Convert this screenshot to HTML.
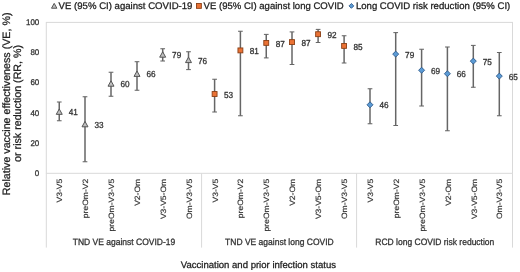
<!DOCTYPE html>
<html><head><meta charset="utf-8"><style>
html,body{margin:0;padding:0;background:#fff;}
body{width:520px;height:272px;overflow:hidden;}
svg{display:block;font-family:"Liberation Sans", sans-serif;filter:blur(0.35px);text-rendering:geometricPrecision;}
</style></head><body>
<svg width="520" height="272" viewBox="0 0 520 272">
<rect x="46.30" y="22.40" width="466.20" height="150.90" fill="none" stroke="#d9d9d9" stroke-width="1"/>
<line x1="46.30" y1="173.30" x2="46.30" y2="247.6" stroke="#d9d9d9" stroke-width="1"/>
<line x1="201.60" y1="173.30" x2="201.60" y2="247.6" stroke="#d9d9d9" stroke-width="1"/>
<line x1="356.60" y1="173.30" x2="356.60" y2="247.6" stroke="#d9d9d9" stroke-width="1"/>
<line x1="512.50" y1="173.30" x2="512.50" y2="247.6" stroke="#d9d9d9" stroke-width="1"/>
<text transform="translate(39.30,173.00) scale(1,1.03)" text-anchor="end" font-size="8.0" fill="#333333" stroke="#333333" stroke-width="0.28" stroke-linejoin="round" dy="0.355em">0</text>
<text transform="translate(39.30,142.82) scale(1,1.03)" text-anchor="end" font-size="8.0" fill="#333333" stroke="#333333" stroke-width="0.28" stroke-linejoin="round" dy="0.355em">20</text>
<text transform="translate(39.30,112.64) scale(1,1.03)" text-anchor="end" font-size="8.0" fill="#333333" stroke="#333333" stroke-width="0.28" stroke-linejoin="round" dy="0.355em">40</text>
<text transform="translate(39.30,82.46) scale(1,1.03)" text-anchor="end" font-size="8.0" fill="#333333" stroke="#333333" stroke-width="0.28" stroke-linejoin="round" dy="0.355em">60</text>
<text transform="translate(39.30,52.28) scale(1,1.03)" text-anchor="end" font-size="8.0" fill="#333333" stroke="#333333" stroke-width="0.28" stroke-linejoin="round" dy="0.355em">80</text>
<text transform="translate(39.30,22.10) scale(1,1.03)" text-anchor="end" font-size="8.0" fill="#333333" stroke="#333333" stroke-width="0.28" stroke-linejoin="round" dy="0.355em">100</text>
<text transform="translate(9.70,103.90) scale(1,1.0) rotate(-90)" text-anchor="middle" font-size="10.7" fill="#222222" stroke="#222222" stroke-width="0.28" stroke-linejoin="round">Relative vaccine effectiveness (VE, %)</text>
<text transform="translate(20.70,103.40) scale(1,1.0) rotate(-90)" text-anchor="middle" font-size="10.7" fill="#222222" stroke="#222222" stroke-width="0.28" stroke-linejoin="round">or risk reduction (RR, %)</text>
<text transform="translate(62.15,178.80) scale(1,1.11) rotate(-90)" text-anchor="end" font-size="7.7" fill="#333333" stroke="#333333" stroke-width="0.18" stroke-linejoin="round">V3-V5</text>
<text transform="translate(88.05,178.80) scale(1,1.11) rotate(-90)" text-anchor="end" font-size="7.7" fill="#333333" stroke="#333333" stroke-width="0.18" stroke-linejoin="round">preOm-V2</text>
<text transform="translate(113.95,178.80) scale(1,1.11) rotate(-90)" text-anchor="end" font-size="7.7" fill="#333333" stroke="#333333" stroke-width="0.18" stroke-linejoin="round">preOm-V3-V5</text>
<text transform="translate(139.85,178.80) scale(1,1.11) rotate(-90)" text-anchor="end" font-size="7.7" fill="#333333" stroke="#333333" stroke-width="0.18" stroke-linejoin="round">V2-Om</text>
<text transform="translate(165.75,178.80) scale(1,1.11) rotate(-90)" text-anchor="end" font-size="7.7" fill="#333333" stroke="#333333" stroke-width="0.18" stroke-linejoin="round">V3-V5-Om</text>
<text transform="translate(191.65,178.80) scale(1,1.11) rotate(-90)" text-anchor="end" font-size="7.7" fill="#333333" stroke="#333333" stroke-width="0.18" stroke-linejoin="round">Om-V3-V5</text>
<text transform="translate(217.55,178.80) scale(1,1.11) rotate(-90)" text-anchor="end" font-size="7.7" fill="#333333" stroke="#333333" stroke-width="0.18" stroke-linejoin="round">V3-V5</text>
<text transform="translate(243.45,178.80) scale(1,1.11) rotate(-90)" text-anchor="end" font-size="7.7" fill="#333333" stroke="#333333" stroke-width="0.18" stroke-linejoin="round">preOm-V2</text>
<text transform="translate(269.35,178.80) scale(1,1.11) rotate(-90)" text-anchor="end" font-size="7.7" fill="#333333" stroke="#333333" stroke-width="0.18" stroke-linejoin="round">preOm-V3-V5</text>
<text transform="translate(295.25,178.80) scale(1,1.11) rotate(-90)" text-anchor="end" font-size="7.7" fill="#333333" stroke="#333333" stroke-width="0.18" stroke-linejoin="round">V2-Om</text>
<text transform="translate(321.15,178.80) scale(1,1.11) rotate(-90)" text-anchor="end" font-size="7.7" fill="#333333" stroke="#333333" stroke-width="0.18" stroke-linejoin="round">V3-V5-Om</text>
<text transform="translate(347.05,178.80) scale(1,1.11) rotate(-90)" text-anchor="end" font-size="7.7" fill="#333333" stroke="#333333" stroke-width="0.18" stroke-linejoin="round">Om-V3-V5</text>
<text transform="translate(372.95,178.80) scale(1,1.11) rotate(-90)" text-anchor="end" font-size="7.7" fill="#333333" stroke="#333333" stroke-width="0.18" stroke-linejoin="round">V3-V5</text>
<text transform="translate(398.85,178.80) scale(1,1.11) rotate(-90)" text-anchor="end" font-size="7.7" fill="#333333" stroke="#333333" stroke-width="0.18" stroke-linejoin="round">preOm-V2</text>
<text transform="translate(424.75,178.80) scale(1,1.11) rotate(-90)" text-anchor="end" font-size="7.7" fill="#333333" stroke="#333333" stroke-width="0.18" stroke-linejoin="round">preOm-V3-V5</text>
<text transform="translate(450.65,178.80) scale(1,1.11) rotate(-90)" text-anchor="end" font-size="7.7" fill="#333333" stroke="#333333" stroke-width="0.18" stroke-linejoin="round">V2-Om</text>
<text transform="translate(476.55,178.80) scale(1,1.11) rotate(-90)" text-anchor="end" font-size="7.7" fill="#333333" stroke="#333333" stroke-width="0.18" stroke-linejoin="round">V3-V5-Om</text>
<text transform="translate(502.45,178.80) scale(1,1.11) rotate(-90)" text-anchor="end" font-size="7.7" fill="#333333" stroke="#333333" stroke-width="0.18" stroke-linejoin="round">Om-V3-V5</text>
<text transform="translate(124.00,244.70) scale(1,1.08)" text-anchor="middle" font-size="8.5" fill="#333333" stroke="#333333" stroke-width="0.28" stroke-linejoin="round">TND VE against COVID-19</text>
<text transform="translate(279.40,244.70) scale(1,1.08)" text-anchor="middle" font-size="8.5" fill="#333333" stroke="#333333" stroke-width="0.28" stroke-linejoin="round">TND VE against long COVID</text>
<text transform="translate(434.80,244.70) scale(1,1.08)" text-anchor="middle" font-size="8.5" fill="#333333" stroke="#333333" stroke-width="0.28" stroke-linejoin="round">RCD long COVID risk reduction</text>
<text transform="translate(258.40,267.60) scale(1,1.0)" text-anchor="middle" font-size="9.55" fill="#222222" stroke="#222222" stroke-width="0.28" stroke-linejoin="round">Vaccination and prior infection status</text>
<line x1="59.25" y1="102.00" x2="59.25" y2="120.75" stroke="#666666" stroke-width="1.5"/>
<line x1="56.90" y1="102.00" x2="61.60" y2="102.00" stroke="#666666" stroke-width="1.05"/>
<line x1="56.90" y1="120.75" x2="61.60" y2="120.75" stroke="#666666" stroke-width="1.05"/>
<path d="M59.25,108.95 L62.25,114.35 L56.25,114.35 Z" fill="#bfbfbf" stroke="#555" stroke-width="1"/>
<text transform="translate(68.65,112.25) scale(1,1.06)" text-anchor="start" font-size="8.2" fill="#333333" stroke="#333333" stroke-width="0.28" stroke-linejoin="round" dy="0.355em">41</text>
<line x1="85.00" y1="96.75" x2="85.00" y2="161.75" stroke="#666666" stroke-width="1.5"/>
<line x1="82.65" y1="96.75" x2="87.35" y2="96.75" stroke="#666666" stroke-width="1.05"/>
<line x1="82.65" y1="161.75" x2="87.35" y2="161.75" stroke="#666666" stroke-width="1.05"/>
<path d="M85.00,121.40 L88.00,126.80 L82.00,126.80 Z" fill="#bfbfbf" stroke="#555" stroke-width="1"/>
<text transform="translate(94.40,124.70) scale(1,1.06)" text-anchor="start" font-size="8.2" fill="#333333" stroke="#333333" stroke-width="0.28" stroke-linejoin="round" dy="0.355em">33</text>
<line x1="111.00" y1="72.25" x2="111.00" y2="96.25" stroke="#666666" stroke-width="1.5"/>
<line x1="108.65" y1="72.25" x2="113.35" y2="72.25" stroke="#666666" stroke-width="1.05"/>
<line x1="108.65" y1="96.25" x2="113.35" y2="96.25" stroke="#666666" stroke-width="1.05"/>
<path d="M111.00,80.80 L114.00,86.20 L108.00,86.20 Z" fill="#bfbfbf" stroke="#555" stroke-width="1"/>
<text transform="translate(120.40,84.10) scale(1,1.06)" text-anchor="start" font-size="8.2" fill="#333333" stroke="#333333" stroke-width="0.28" stroke-linejoin="round" dy="0.355em">60</text>
<line x1="137.00" y1="61.70" x2="137.00" y2="90.25" stroke="#666666" stroke-width="1.5"/>
<line x1="134.65" y1="61.70" x2="139.35" y2="61.70" stroke="#666666" stroke-width="1.05"/>
<line x1="134.65" y1="90.25" x2="139.35" y2="90.25" stroke="#666666" stroke-width="1.05"/>
<path d="M137.00,71.00 L140.00,76.40 L134.00,76.40 Z" fill="#bfbfbf" stroke="#555" stroke-width="1"/>
<text transform="translate(146.40,74.30) scale(1,1.06)" text-anchor="start" font-size="8.2" fill="#333333" stroke="#333333" stroke-width="0.28" stroke-linejoin="round" dy="0.355em">66</text>
<line x1="162.70" y1="48.75" x2="162.70" y2="61.00" stroke="#666666" stroke-width="1.5"/>
<line x1="160.35" y1="48.75" x2="165.05" y2="48.75" stroke="#666666" stroke-width="1.05"/>
<line x1="160.35" y1="61.00" x2="165.05" y2="61.00" stroke="#666666" stroke-width="1.05"/>
<path d="M162.70,51.80 L165.70,57.20 L159.70,57.20 Z" fill="#bfbfbf" stroke="#555" stroke-width="1"/>
<text transform="translate(172.10,55.10) scale(1,1.06)" text-anchor="start" font-size="8.2" fill="#333333" stroke="#333333" stroke-width="0.28" stroke-linejoin="round" dy="0.355em">79</text>
<line x1="188.50" y1="51.75" x2="188.50" y2="69.60" stroke="#666666" stroke-width="1.5"/>
<line x1="186.15" y1="51.75" x2="190.85" y2="51.75" stroke="#666666" stroke-width="1.05"/>
<line x1="186.15" y1="69.60" x2="190.85" y2="69.60" stroke="#666666" stroke-width="1.05"/>
<path d="M188.50,57.20 L191.50,62.60 L185.50,62.60 Z" fill="#bfbfbf" stroke="#555" stroke-width="1"/>
<text transform="translate(197.90,60.50) scale(1,1.06)" text-anchor="start" font-size="8.2" fill="#333333" stroke="#333333" stroke-width="0.28" stroke-linejoin="round" dy="0.355em">76</text>
<line x1="214.60" y1="79.25" x2="214.60" y2="112.00" stroke="#666666" stroke-width="1.5"/>
<line x1="212.25" y1="79.25" x2="216.95" y2="79.25" stroke="#666666" stroke-width="1.05"/>
<line x1="212.25" y1="112.00" x2="216.95" y2="112.00" stroke="#666666" stroke-width="1.05"/>
<rect x="212.15" y="91.55" width="4.90" height="4.90" fill="#ea7235" stroke="#8a3f14" stroke-width="0.9"/>
<text transform="translate(224.00,94.60) scale(1,1.06)" text-anchor="start" font-size="8.2" fill="#333333" stroke="#333333" stroke-width="0.28" stroke-linejoin="round" dy="0.355em">53</text>
<line x1="240.40" y1="31.25" x2="240.40" y2="115.75" stroke="#666666" stroke-width="1.5"/>
<line x1="238.05" y1="31.25" x2="242.75" y2="31.25" stroke="#666666" stroke-width="1.05"/>
<line x1="238.05" y1="115.75" x2="242.75" y2="115.75" stroke="#666666" stroke-width="1.05"/>
<rect x="237.95" y="47.95" width="4.90" height="4.90" fill="#ea7235" stroke="#8a3f14" stroke-width="0.9"/>
<text transform="translate(249.80,51.00) scale(1,1.06)" text-anchor="start" font-size="8.2" fill="#333333" stroke="#333333" stroke-width="0.28" stroke-linejoin="round" dy="0.355em">81</text>
<line x1="266.25" y1="34.40" x2="266.25" y2="57.90" stroke="#666666" stroke-width="1.5"/>
<line x1="263.90" y1="34.40" x2="268.60" y2="34.40" stroke="#666666" stroke-width="1.05"/>
<line x1="263.90" y1="57.90" x2="268.60" y2="57.90" stroke="#666666" stroke-width="1.05"/>
<rect x="263.80" y="40.45" width="4.90" height="4.90" fill="#ea7235" stroke="#8a3f14" stroke-width="0.9"/>
<text transform="translate(275.65,43.50) scale(1,1.06)" text-anchor="start" font-size="8.2" fill="#333333" stroke="#333333" stroke-width="0.28" stroke-linejoin="round" dy="0.355em">87</text>
<line x1="292.00" y1="31.90" x2="292.00" y2="64.50" stroke="#666666" stroke-width="1.5"/>
<line x1="289.65" y1="31.90" x2="294.35" y2="31.90" stroke="#666666" stroke-width="1.05"/>
<line x1="289.65" y1="64.50" x2="294.35" y2="64.50" stroke="#666666" stroke-width="1.05"/>
<rect x="289.55" y="39.65" width="4.90" height="4.90" fill="#ea7235" stroke="#8a3f14" stroke-width="0.9"/>
<text transform="translate(301.40,42.70) scale(1,1.06)" text-anchor="start" font-size="8.2" fill="#333333" stroke="#333333" stroke-width="0.28" stroke-linejoin="round" dy="0.355em">87</text>
<line x1="318.10" y1="29.40" x2="318.10" y2="42.50" stroke="#666666" stroke-width="1.5"/>
<line x1="315.75" y1="29.40" x2="320.45" y2="29.40" stroke="#666666" stroke-width="1.05"/>
<line x1="315.75" y1="42.50" x2="320.45" y2="42.50" stroke="#666666" stroke-width="1.05"/>
<rect x="315.65" y="31.75" width="4.90" height="4.90" fill="#ea7235" stroke="#8a3f14" stroke-width="0.9"/>
<text transform="translate(327.50,34.80) scale(1,1.06)" text-anchor="start" font-size="8.2" fill="#333333" stroke="#333333" stroke-width="0.28" stroke-linejoin="round" dy="0.355em">92</text>
<line x1="344.10" y1="35.75" x2="344.10" y2="63.00" stroke="#666666" stroke-width="1.5"/>
<line x1="341.75" y1="35.75" x2="346.45" y2="35.75" stroke="#666666" stroke-width="1.05"/>
<line x1="341.75" y1="63.00" x2="346.45" y2="63.00" stroke="#666666" stroke-width="1.05"/>
<rect x="341.65" y="43.45" width="4.90" height="4.90" fill="#ea7235" stroke="#8a3f14" stroke-width="0.9"/>
<text transform="translate(353.50,46.50) scale(1,1.06)" text-anchor="start" font-size="8.2" fill="#333333" stroke="#333333" stroke-width="0.28" stroke-linejoin="round" dy="0.355em">85</text>
<line x1="370.00" y1="88.75" x2="370.00" y2="123.75" stroke="#666666" stroke-width="1.5"/>
<line x1="367.65" y1="88.75" x2="372.35" y2="88.75" stroke="#666666" stroke-width="1.05"/>
<line x1="367.65" y1="123.75" x2="372.35" y2="123.75" stroke="#666666" stroke-width="1.05"/>
<path d="M370.00,101.80 L373.00,104.80 L370.00,107.80 L367.00,104.80 Z" fill="#5b9bd5" stroke="#2e5a8c" stroke-width="0.9"/>
<text transform="translate(379.40,105.40) scale(1,1.06)" text-anchor="start" font-size="8.2" fill="#333333" stroke="#333333" stroke-width="0.28" stroke-linejoin="round" dy="0.355em">46</text>
<line x1="395.70" y1="32.60" x2="395.70" y2="125.50" stroke="#666666" stroke-width="1.5"/>
<line x1="393.35" y1="32.60" x2="398.05" y2="32.60" stroke="#666666" stroke-width="1.05"/>
<line x1="393.35" y1="125.50" x2="398.05" y2="125.50" stroke="#666666" stroke-width="1.05"/>
<path d="M395.70,51.10 L398.70,54.10 L395.70,57.10 L392.70,54.10 Z" fill="#5b9bd5" stroke="#2e5a8c" stroke-width="0.9"/>
<text transform="translate(405.10,54.70) scale(1,1.06)" text-anchor="start" font-size="8.2" fill="#333333" stroke="#333333" stroke-width="0.28" stroke-linejoin="round" dy="0.355em">79</text>
<line x1="421.60" y1="49.25" x2="421.60" y2="106.00" stroke="#666666" stroke-width="1.5"/>
<line x1="419.25" y1="49.25" x2="423.95" y2="49.25" stroke="#666666" stroke-width="1.05"/>
<line x1="419.25" y1="106.00" x2="423.95" y2="106.00" stroke="#666666" stroke-width="1.05"/>
<path d="M421.60,67.25 L424.60,70.25 L421.60,73.25 L418.60,70.25 Z" fill="#5b9bd5" stroke="#2e5a8c" stroke-width="0.9"/>
<text transform="translate(431.00,70.85) scale(1,1.06)" text-anchor="start" font-size="8.2" fill="#333333" stroke="#333333" stroke-width="0.28" stroke-linejoin="round" dy="0.355em">69</text>
<line x1="447.40" y1="47.00" x2="447.40" y2="130.75" stroke="#666666" stroke-width="1.5"/>
<line x1="445.05" y1="47.00" x2="449.75" y2="47.00" stroke="#666666" stroke-width="1.05"/>
<line x1="445.05" y1="130.75" x2="449.75" y2="130.75" stroke="#666666" stroke-width="1.05"/>
<path d="M447.40,70.75 L450.40,73.75 L447.40,76.75 L444.40,73.75 Z" fill="#5b9bd5" stroke="#2e5a8c" stroke-width="0.9"/>
<text transform="translate(456.80,74.35) scale(1,1.06)" text-anchor="start" font-size="8.2" fill="#333333" stroke="#333333" stroke-width="0.28" stroke-linejoin="round" dy="0.355em">66</text>
<line x1="473.30" y1="45.40" x2="473.30" y2="87.25" stroke="#666666" stroke-width="1.5"/>
<line x1="470.95" y1="45.40" x2="475.65" y2="45.40" stroke="#666666" stroke-width="1.05"/>
<line x1="470.95" y1="87.25" x2="475.65" y2="87.25" stroke="#666666" stroke-width="1.05"/>
<path d="M473.30,58.10 L476.30,61.10 L473.30,64.10 L470.30,61.10 Z" fill="#5b9bd5" stroke="#2e5a8c" stroke-width="0.9"/>
<text transform="translate(482.70,61.70) scale(1,1.06)" text-anchor="start" font-size="8.2" fill="#333333" stroke="#333333" stroke-width="0.28" stroke-linejoin="round" dy="0.355em">75</text>
<line x1="499.30" y1="52.50" x2="499.30" y2="115.75" stroke="#666666" stroke-width="1.5"/>
<line x1="496.95" y1="52.50" x2="501.65" y2="52.50" stroke="#666666" stroke-width="1.05"/>
<line x1="496.95" y1="115.75" x2="501.65" y2="115.75" stroke="#666666" stroke-width="1.05"/>
<path d="M499.30,73.10 L502.30,76.10 L499.30,79.10 L496.30,76.10 Z" fill="#5b9bd5" stroke="#2e5a8c" stroke-width="0.9"/>
<text transform="translate(508.70,76.70) scale(1,1.06)" text-anchor="start" font-size="8.2" fill="#333333" stroke="#333333" stroke-width="0.28" stroke-linejoin="round" dy="0.355em">65</text>
<path d="M54.20,3.37 L56.90,8.23 L51.50,8.23 Z" fill="#bfbfbf" stroke="#555" stroke-width="1"/><text transform="translate(58.60,8.90) scale(1,1.0)" text-anchor="start" font-size="9.6" fill="#222222" stroke="#222222" stroke-width="0.28" stroke-linejoin="round">VE (95% CI) against COVID-19</text>
<rect x="196.45" y="3.45" width="4.90" height="4.90" fill="#ea7235" stroke="#8a3f14" stroke-width="0.9"/><text transform="translate(203.60,8.90) scale(1,1.0)" text-anchor="start" font-size="9.55" fill="#222222" stroke="#222222" stroke-width="0.28" stroke-linejoin="round">VE (95% CI) against long COVID</text>
<path d="M351.40,3.50 L353.80,5.90 L351.40,8.30 L349.00,5.90 Z" fill="#5b9bd5" stroke="#2e5a8c" stroke-width="0.9"/><text transform="translate(355.90,8.90) scale(1,1.0)" text-anchor="start" font-size="9.58" fill="#222222" stroke="#222222" stroke-width="0.28" stroke-linejoin="round">Long COVID risk reduction (95% CI)</text>
</svg>
</body></html>
